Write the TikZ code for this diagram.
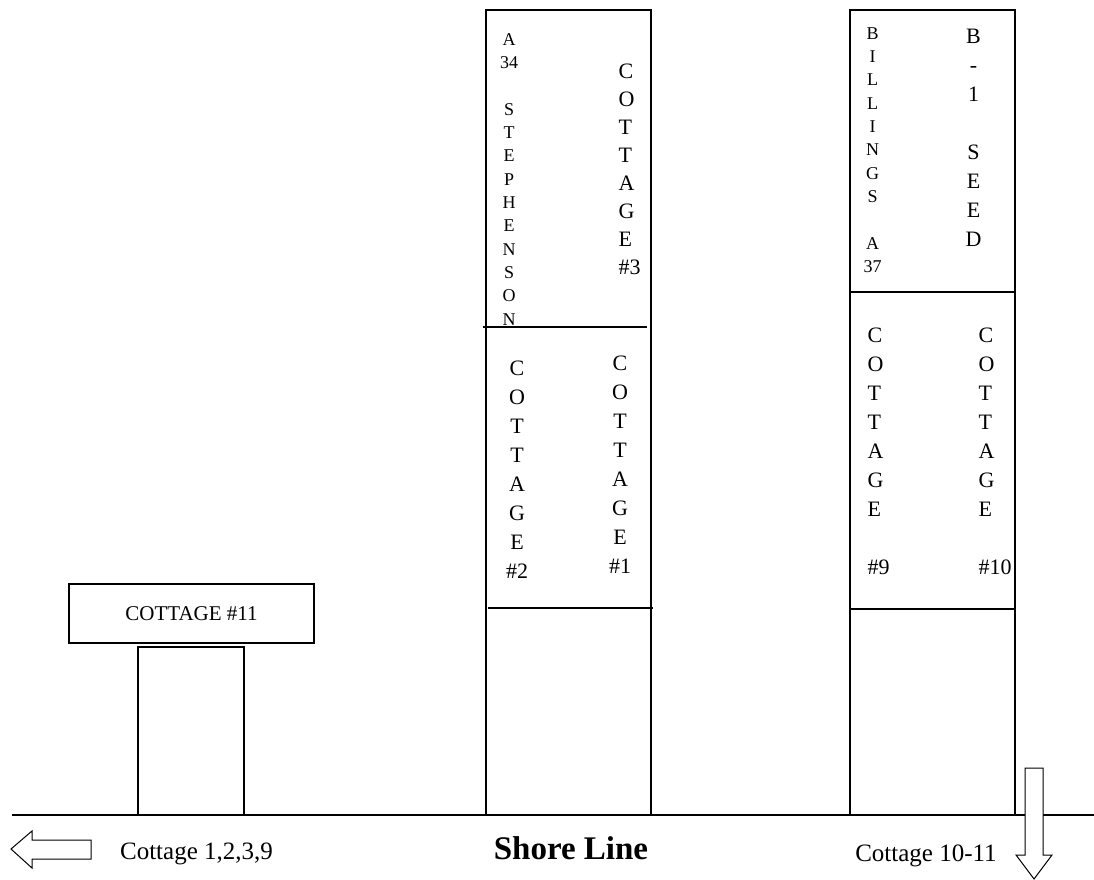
\documentclass[tikz,border=0pt]{standalone}
\usepackage{fontspec}
\setmainfont{Liberation Serif}
\begin{document}
\begin{tikzpicture}[x=1pt,y=-1pt,line width=1.2pt,
  bigstack/.style={font=\fontsize{22}{29}\selectfont, inner sep=0pt, align=center, anchor=north},
  bigstackl/.style={font=\fontsize{22}{29}\selectfont, inner sep=0pt, align=left, anchor=north west},
  smallstack/.style={font=\fontsize{18}{23.3}\selectfont, inner sep=0pt, align=center, anchor=north},
  bottomtext/.style={font=\fontsize{25}{30}\selectfont, inner sep=0pt, anchor=base},
  hollowarrow/.style={draw, fill=white, line width=1pt}]
\useasboundingbox (0,0) rectangle (1094,880);

% shore line
\draw (12,815) -- (1094,815);

% middle column
\draw (486,10) rectangle (651,815);
\draw (483,327) -- (647,327);
\draw (488,608) -- (653,608);

% right column
\draw (850,10) rectangle (1015,815);
\draw (850,292) -- (1015,292);
\draw (850,609) -- (1015,609);

% cottage 11
\node[draw, inner sep=0pt, minimum width=245pt, minimum height=59pt,
      font=\fontsize{21}{25}\selectfont] (c11) at (191.5,613.5) {COTTAGE \#11};
\draw (138,647) rectangle (244,815);

% stacked labels
\node[smallstack] (steph) at (509,33) {A\\34\\[23.3pt]S\\T\\E\\P\\H\\E\\N\\S\\O\\N};
\node[bigstackl, font=\fontsize{22}{28}\selectfont] (c3) at (618,63) {C\\O\\T\\T\\A\\G\\E\\\#3};
\node[bigstack] (c2) at (517,360) {C\\O\\T\\T\\A\\G\\E\\\#2};
\node[bigstack] (c1) at (620,355) {C\\O\\T\\T\\A\\G\\E\\\#1};
\node[smallstack] (bill) at (872.5,27) {B\\I\\L\\L\\I\\N\\G\\S\\[23.3pt]A\\37};
\node[bigstack] (seed) at (973.5,28) {B\\-\\1\\[29pt]S\\E\\E\\D};
\node[bigstackl] (c9) at (867,327) {C\\O\\T\\T\\A\\G\\E\\[29pt]\#9};
\node[bigstackl] (c10) at (978,327) {C\\O\\T\\T\\A\\G\\E\\[29pt]\#10};

% arrows
\draw[hollowarrow] (11,849) -- (32,831) -- (32,840) -- (91,840) -- (91,859)
  -- (32,859) -- (32,868) -- cycle;
\draw[hollowarrow] (1034,879) -- (1016,855) -- (1025,855) -- (1025,768)
  -- (1043,768) -- (1043,855) -- (1052,855) -- cycle;

% bottom texts
\node[bottomtext] (left) at (196.5,859) {Cottage 1,2,3,9};
\node[bottomtext, font=\fontsize{33}{38}\selectfont\bfseries] (shore) at (571,859) {Shore Line};
\node[bottomtext] (right) at (926,861) {Cottage 10-11};
\end{tikzpicture}
\end{document}
